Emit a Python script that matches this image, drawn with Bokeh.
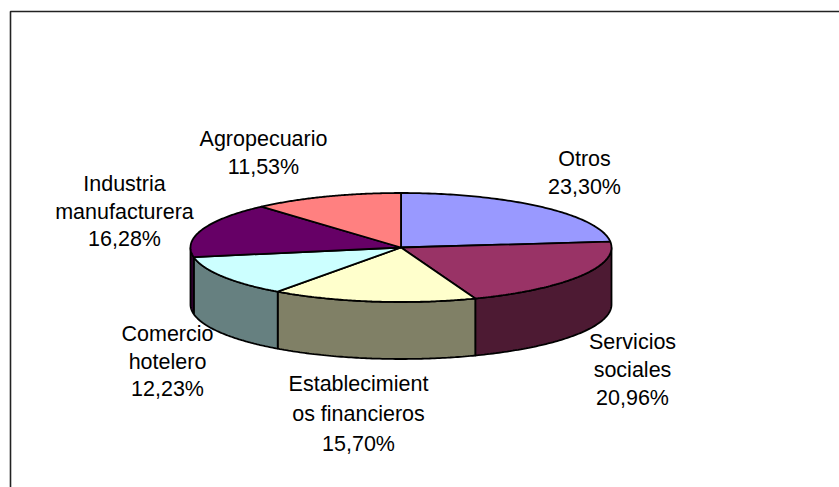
import numpy as np
from bokeh.plotting import figure
from bokeh.models import Range1d
from bokeh.core.properties import value
from bokeh.embed import file_html
from bokeh.resources import INLINE

categories = ["Otros", "Servicios sociales", "Establecimientos financieros",
              "Comercio hotelero", "Industria manufacturera", "Agropecuario"]
shares = [23.30, 20.96, 15.70, 12.23, 16.28, 11.53]
top_colors = ["#9999FF", "#993366", "#FFFFCC", "#CCFFFF", "#660066", "#FF8080"]
side_colors = ["#4D4D80", "#4D1A33", "#808066", "#668080", "#330033", "#804040"]
label_lines = [["Otros", "23,30%"], ["Servicios", "sociales", "20,96%"],
               ["Establecimient", "os financieros", "15,70%"],
               ["Comercio", "hotelero", "12,23%"],
               ["Industria", "manufacturera", "16,28%"],
               ["Agropecuario", "11,53%"]]

label_centers = [(584, 172), (632, 369), (358, 413), (167, 361), (124, 211), (263, 152)]
label_spacing = [28, 28, 30, 27.5, 27.5, 28]

W, H = 839, 487
p = figure(width=W, height=H, output_backend="svg", toolbar_location=None,
           x_range=Range1d(0, W), y_range=Range1d(H, 0),
           min_border=0, outline_line_color=None, background_fill_color="white")
p.axis.visible = False
p.grid.visible = False

# frame: only its top and left edges fall inside the picture
p.line([10, 10, W], [H, 11, 11], line_color="#222222", line_width=1.6)

cx, cy, rx, ry, depth = 400.5, 247, 210.5, 54.5, 57
edges = np.cumsum([0] + shares) / 100 * 2 * np.pi

def ex(t):
    return cx + rx * np.sin(t)

def ey(t):
    return cy - ry * np.cos(t)

for i in range(len(shares)):
    a, b = edges[i], edges[i + 1]
    lo, hi = max(a, np.pi / 2), min(b, 3 * np.pi / 2)
    if lo >= hi:
        continue
    t = np.linspace(lo, hi, 80)
    xs = np.r_[ex(t), ex(t[::-1])]
    ys = np.r_[ey(t), ey(t[::-1]) + depth]
    p.patch(xs, ys, fill_color=side_colors[i], line_color="black", line_width=1.8)

for i in range(len(shares)):
    t = np.linspace(edges[i], edges[i + 1], 100)
    xs = np.r_[cx, ex(t)]
    ys = np.r_[cy, ey(t)]
    p.patch(xs, ys, fill_color=top_colors[i], line_color="black", line_width=1.8)

for lines, (lx, ly), sp in zip(label_lines, label_centers, label_spacing):
    n = len(lines)
    for k, s in enumerate(lines):
        p.text([lx], [ly + (k - (n - 1) / 2) * sp], text=[s], text_align="center",
               text_baseline="middle", text_font=value("Liberation Sans"),
               text_font_size="21.5px", text_color="black")

open("out.html", "w").write(file_html(p, INLINE))
